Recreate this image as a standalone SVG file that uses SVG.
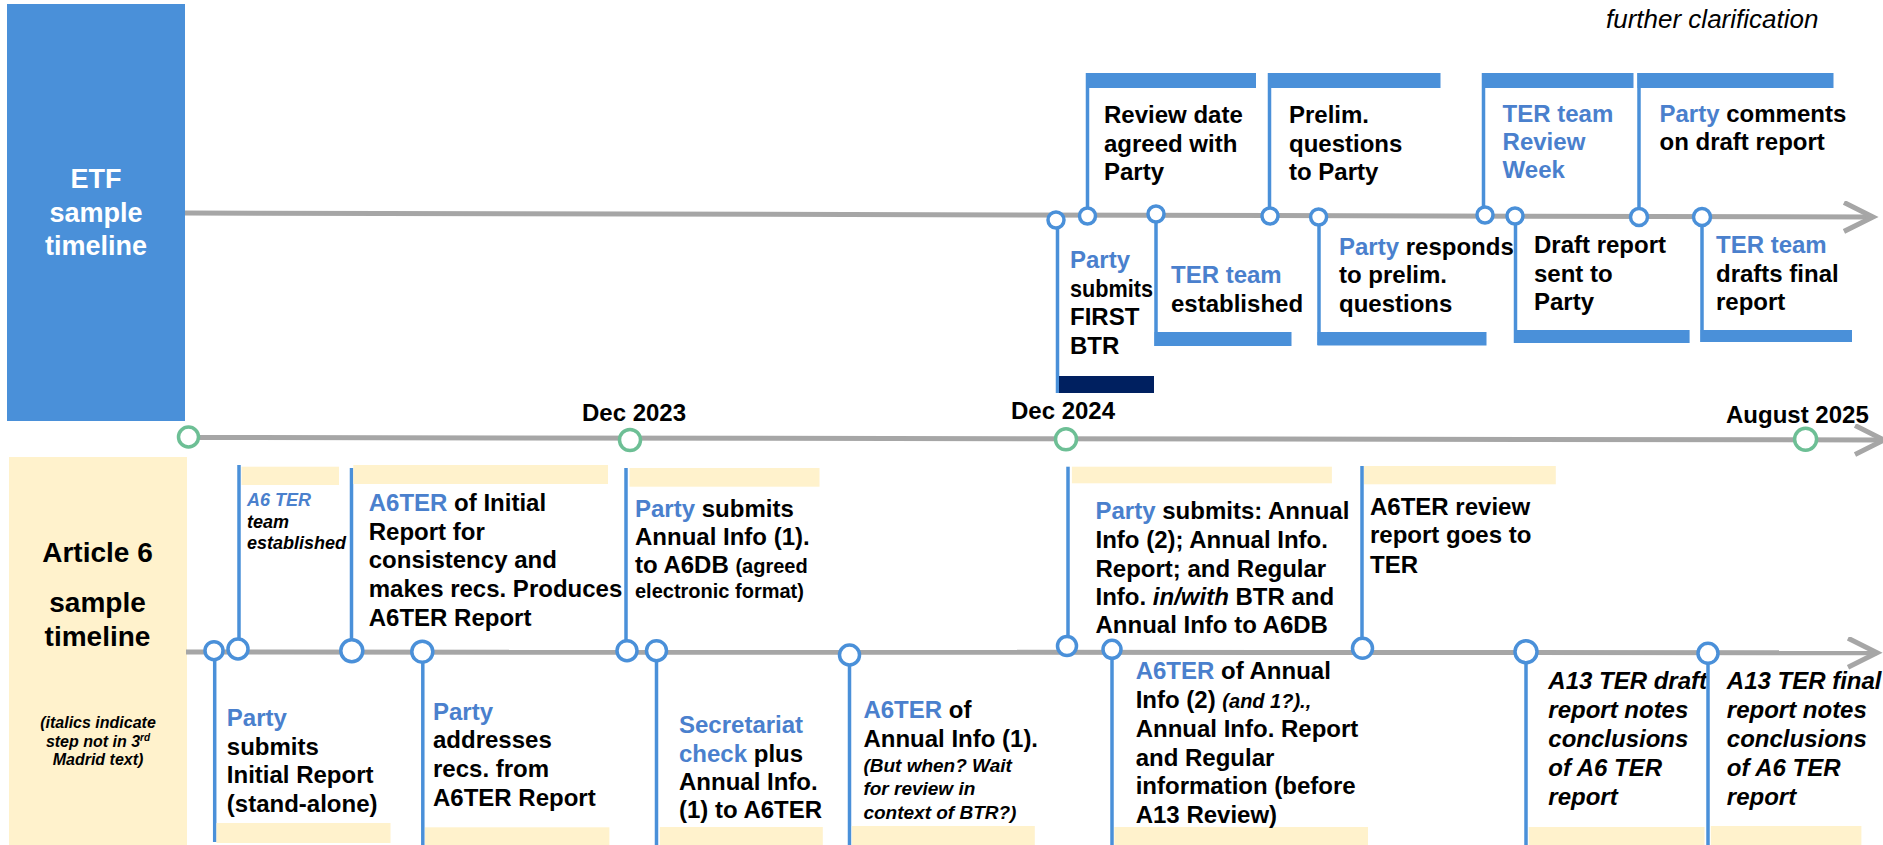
<svg xmlns="http://www.w3.org/2000/svg" width="1883" height="845" viewBox="0 0 1883 845">
<style>
text{font-family:"Liberation Sans",Arial,sans-serif;font-weight:bold;font-size:24px;fill:#000}
.bl{fill:#4A80CD}
.it{font-style:italic}
.s20{font-size:20px}
.s19{font-size:19px}
.wh{fill:#fff;font-size:27px}
.vl{stroke:#4A90D9;stroke-width:3.5;fill:none}
.bar{fill:#4A90D9}
.cr{fill:#FFF2CC}
.dot{fill:#fff;stroke:#4A90D9;stroke-width:3.5}
.gdot{fill:#fff;stroke:#6DBF95;stroke-width:3.5}
.tl{stroke:#A6A6A6;stroke-width:5;fill:none}
</style>
<defs>
<marker id="arr" markerUnits="userSpaceOnUse" markerWidth="40" markerHeight="40" refX="30" refY="16" orient="auto" viewBox="0 0 40 40">
<path d="M1,1.5 L30,16 L1,30.5" fill="none" stroke="#A6A6A6" stroke-width="5"/>
</marker>
</defs>
<rect width="1883" height="845" fill="#fff"/>

<g id="etf-label">
<rect x="7" y="4" width="178" height="417" fill="#4A90D9"/>
<text class="wh" text-anchor="middle"><tspan x="96" y="188">ETF</tspan><tspan x="96" y="222">sample</tspan><tspan x="96" y="255">timeline</tspan></text>
</g>
<g id="a6-label">
<rect x="9" y="457" width="178" height="388" class="cr"/>
<text style="font-size:28px" text-anchor="middle"><tspan x="97.5" y="562">Article 6</tspan><tspan x="97.5" y="612">sample</tspan><tspan x="97.5" y="646">timeline</tspan></text>
<text class="it" style="font-size:16px" text-anchor="middle"><tspan x="98" y="728">(italics indicate</tspan><tspan x="98" y="747">step not in 3<tspan style="font-size:10px" dy="-6">rd</tspan></tspan><tspan x="98" y="765">Madrid text)</tspan></text>
</g>
<g id="note">
<text class="it" style="font-weight:normal;font-size:26px" x="1606" y="28">further clarification</text>
</g>

<g id="connectors">
<path class="tl" d="M185,213 L1873,217" marker-end="url(#arr)"/>
<path class="tl" d="M188,437.5 L1884,440" marker-end="url(#arr)"/>
<path class="tl" d="M186,652 L1877,652.7" marker-end="url(#arr)"/>
</g>

<g id="dates">
<circle class="gdot" cx="188.5" cy="437" r="10"/>
<circle class="gdot" cx="630" cy="440" r="10.5"/>
<circle class="gdot" cx="1066" cy="439.3" r="10.5"/>
<circle class="gdot" cx="1805.6" cy="439.3" r="11"/>
<text text-anchor="middle" x="634" y="420.7">Dec 2023</text>
<text text-anchor="middle" x="1063" y="419.3">Dec 2024</text>
<text text-anchor="middle" x="1797.4" y="423">August 2025</text>
</g>

<g id="e-firstbtr">
<line class="vl" x1="1057.5" y1="228" x2="1057.5" y2="393"/>
<rect x="1059" y="376" width="95" height="17" fill="#002060"/>
<circle class="dot" cx="1056" cy="220" r="8"/>
<text><tspan class="bl" x="1070" y="268">Party</tspan><tspan x="1070" y="297" textLength="83" lengthAdjust="spacingAndGlyphs">submits</tspan><tspan x="1070" y="325">FIRST</tspan><tspan x="1070" y="354">BTR</tspan></text>
</g>
<g id="e-reviewdate">
<line class="vl" x1="1087.5" y1="208" x2="1087.5" y2="73"/>
<rect class="bar" x="1086" y="73" width="170" height="15"/>
<circle class="dot" cx="1087.5" cy="216" r="8"/>
<text><tspan x="1104" y="123">Review date</tspan><tspan x="1104" y="152">agreed with</tspan><tspan x="1104" y="180">Party</tspan></text>
</g>
<g id="e-terteam">
<line class="vl" x1="1156" y1="222" x2="1156" y2="346"/>
<rect class="bar" x="1154.5" y="332" width="137" height="14"/>
<circle class="dot" cx="1156" cy="214" r="8"/>
<text><tspan class="bl" x="1171" y="283">TER team</tspan><tspan x="1171" y="312">established</tspan></text>
</g>
<g id="e-prelim">
<line class="vl" x1="1269.5" y1="208" x2="1269.5" y2="73"/>
<rect class="bar" x="1268" y="73" width="172.5" height="15"/>
<circle class="dot" cx="1270" cy="216" r="8"/>
<text><tspan x="1289" y="123">Prelim.</tspan><tspan x="1289" y="152">questions</tspan><tspan x="1289" y="180">to Party</tspan></text>
</g>
<g id="e-responds">
<line class="vl" x1="1319" y1="225" x2="1319" y2="345"/>
<rect class="bar" x="1317.5" y="332" width="169" height="13.5"/>
<circle class="dot" cx="1318.6" cy="217" r="8"/>
<text><tspan x="1339" y="255"><tspan class="bl">Party</tspan> responds</tspan><tspan x="1339" y="283">to prelim.</tspan><tspan x="1339" y="312">questions</tspan></text>
</g>
<g id="e-reviewweek">
<line class="vl" x1="1483.5" y1="207" x2="1483.5" y2="73"/>
<rect class="bar" x="1482" y="73" width="151.5" height="15"/>
<circle class="dot" cx="1485" cy="215" r="8"/>
<text class="bl"><tspan x="1502.6" y="122">TER team</tspan><tspan x="1502.6" y="150">Review</tspan><tspan x="1502.6" y="178">Week</tspan></text>
</g>
<g id="e-draft">
<line class="vl" x1="1515.5" y1="224" x2="1515.5" y2="343"/>
<rect class="bar" x="1514" y="330" width="175.6" height="13"/>
<circle class="dot" cx="1515" cy="216" r="8"/>
<text><tspan x="1534" y="253">Draft report</tspan><tspan x="1534" y="282">sent to</tspan><tspan x="1534" y="310">Party</tspan></text>
</g>
<g id="e-comments">
<line class="vl" x1="1639" y1="209" x2="1639" y2="73"/>
<rect class="bar" x="1637.5" y="73" width="196" height="15"/>
<circle class="dot" cx="1639" cy="217" r="8.5"/>
<text><tspan x="1659.5" y="122"><tspan class="bl">Party</tspan> comments</tspan><tspan x="1659.5" y="150">on draft report</tspan></text>
</g>
<g id="e-finaldraft">
<line class="vl" x1="1702" y1="225" x2="1702" y2="342"/>
<rect class="bar" x="1700.5" y="330" width="151.5" height="12"/>
<circle class="dot" cx="1702" cy="217" r="8.5"/>
<text><tspan class="bl" x="1716" y="253">TER team</tspan><tspan x="1716" y="282">drafts final</tspan><tspan x="1716" y="310">report</tspan></text>
</g>

<g id="a-initial">
<line class="vl" x1="214.7" y1="660" x2="214.7" y2="842"/>
<rect class="cr" x="216.5" y="823" width="174" height="20"/>
<circle class="dot" cx="214" cy="650.7" r="9"/>
<text><tspan class="bl" x="226.8" y="726">Party</tspan><tspan x="226.8" y="755">submits</tspan><tspan x="226.8" y="783">Initial Report</tspan><tspan x="226.8" y="811.7">(stand-alone)</tspan></text>
</g>
<g id="a-team">
<line class="vl" x1="239" y1="639" x2="239" y2="465"/>
<rect class="cr" x="241.5" y="466.7" width="97.5" height="18.3"/>
<circle class="dot" cx="238" cy="649" r="10"/>
<text class="it" style="font-size:18px"><tspan class="bl" x="246.9" y="506">A6 TER</tspan><tspan x="246.9" y="527.5">team</tspan><tspan x="246.9" y="549">established</tspan></text>
</g>
<g id="a-a6ter-initial">
<line class="vl" x1="351.5" y1="640" x2="351.5" y2="468"/>
<rect class="cr" x="353.3" y="465" width="254.7" height="19"/>
<circle class="dot" cx="351.8" cy="650.7" r="11"/>
<text><tspan x="368.75" y="511"><tspan class="bl">A6TER</tspan> of Initial</tspan><tspan x="368.75" y="540">Report for</tspan><tspan x="368.75" y="568">consistency and</tspan><tspan x="368.75" y="597">makes recs. Produces</tspan><tspan x="368.75" y="626">A6TER Report</tspan></text>
</g>
<g id="a-addresses">
<line class="vl" x1="422.8" y1="662" x2="422.8" y2="845"/>
<rect class="cr" x="425" y="827.3" width="184.4" height="18"/>
<circle class="dot" cx="422.3" cy="651.7" r="10.5"/>
<text><tspan class="bl" x="433" y="720">Party</tspan><tspan x="433" y="748">addresses</tspan><tspan x="433" y="776.7">recs. from</tspan><tspan x="433" y="806">A6TER Report</tspan></text>
</g>
<g id="a-annual1">
<line class="vl" x1="626" y1="641" x2="626" y2="468"/>
<rect class="cr" x="629.5" y="468" width="190" height="18.7"/>
<circle class="dot" cx="627" cy="650.7" r="10"/>
<text><tspan x="635" y="516.7"><tspan class="bl">Party</tspan> submits</tspan><tspan x="635" y="545">Annual Info (1).</tspan><tspan x="635" y="572.7">to A6DB <tspan class="s20">(agreed</tspan></tspan><tspan class="s20" x="635" y="598.3">electronic format)</tspan></text>
</g>
<g id="a-secretariat">
<line class="vl" x1="656.5" y1="661" x2="656.5" y2="845"/>
<rect class="cr" x="659.8" y="827" width="163" height="18"/>
<circle class="dot" cx="656.5" cy="650.7" r="10"/>
<text><tspan class="bl" x="679" y="732.7">Secretariat</tspan><tspan x="679" y="761.7"><tspan class="bl">check</tspan> plus</tspan><tspan x="679" y="790">Annual Info.</tspan><tspan x="679" y="818.3">(1) to A6TER</tspan></text>
</g>
<g id="a-review1">
<line class="vl" x1="849.5" y1="665" x2="849.5" y2="845"/>
<rect class="cr" x="851.8" y="826" width="183" height="19"/>
<circle class="dot" cx="849.5" cy="655" r="10"/>
<text><tspan x="863.4" y="718.3"><tspan class="bl">A6TER</tspan> of</tspan><tspan x="863.4" y="746.7">Annual Info (1).</tspan><tspan class="it s19" x="863.4" y="771.7">(But when? Wait</tspan><tspan class="it s19" x="863.4" y="795">for review in</tspan><tspan class="it s19" x="863.4" y="819.3">context of BTR?)</tspan></text>
</g>
<g id="a-annual2">
<line class="vl" x1="1068" y1="636" x2="1068" y2="466.7"/>
<rect class="cr" x="1071.9" y="466.7" width="260" height="16.6"/>
<circle class="dot" cx="1067" cy="646" r="9.5"/>
<text><tspan x="1095.5" y="519.3"><tspan class="bl">Party</tspan> submits: Annual</tspan><tspan x="1095.5" y="548.3">Info (2); Annual Info.</tspan><tspan x="1095.5" y="576.7">Report; and Regular</tspan><tspan x="1095.5" y="605">Info. <tspan class="it">in/with</tspan> BTR and</tspan><tspan x="1095.5" y="633.3">Annual Info to A6DB</tspan></text>
</g>
<g id="a-review2">
<line class="vl" x1="1112" y1="658" x2="1112" y2="845"/>
<rect class="cr" x="1114.3" y="827" width="253.7" height="18"/>
<circle class="dot" cx="1112" cy="649.3" r="9"/>
<text><tspan x="1135.7" y="679.3"><tspan class="bl">A6TER</tspan> of Annual</tspan><tspan x="1135.7" y="707.5">Info (2) <tspan class="it s20">(and 1?).,</tspan></tspan><tspan x="1135.7" y="736.7">Annual Info. Report</tspan><tspan x="1135.7" y="766">and Regular</tspan><tspan x="1135.7" y="794.3">information (before</tspan><tspan x="1135.7" y="823.3">A13 Review)</tspan></text>
</g>
<g id="a-toter">
<line class="vl" x1="1362" y1="638" x2="1362" y2="466"/>
<rect class="cr" x="1364" y="466" width="191.8" height="18.3"/>
<circle class="dot" cx="1362.5" cy="648.3" r="10"/>
<text><tspan x="1370" y="515">A6TER review</tspan><tspan x="1370" y="543.3">report goes to</tspan><tspan x="1370" y="572.7">TER</tspan></text>
</g>
<g id="a-a13draft">
<line class="vl" x1="1526" y1="663" x2="1526" y2="845"/>
<rect class="cr" x="1528.7" y="827" width="175.8" height="18"/>
<circle class="dot" cx="1526" cy="651.7" r="11"/>
<text class="it"><tspan x="1548.3" y="689.3">A13 TER draft</tspan><tspan x="1548.3" y="718.3">report notes</tspan><tspan x="1548.3" y="747.3">conclusions</tspan><tspan x="1548.3" y="776">of A6 TER</tspan><tspan x="1548.3" y="805">report</tspan></text>
</g>
<g id="a-a13final">
<line class="vl" x1="1708" y1="663" x2="1708" y2="845"/>
<rect class="cr" x="1710.8" y="826" width="150.6" height="19"/>
<circle class="dot" cx="1708" cy="653.3" r="10"/>
<text class="it"><tspan x="1726.8" y="689.3">A13 TER final</tspan><tspan x="1726.8" y="718.3">report notes</tspan><tspan x="1726.8" y="747.3">conclusions</tspan><tspan x="1726.8" y="776">of A6 TER</tspan><tspan x="1726.8" y="805">report</tspan></text>
</g>
</svg>
